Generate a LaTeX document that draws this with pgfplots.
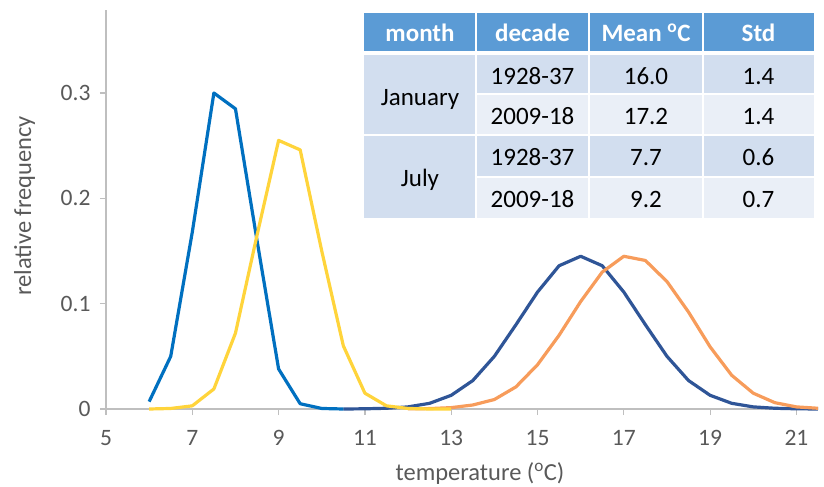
\documentclass[border=0pt]{standalone}
\usepackage{pgfplots}
\pgfplotsset{compat=1.18}
\usepackage{fontspec}
\setmainfont{Carlito}
\definecolor{lblue}{HTML}{0070C0}
\definecolor{yel}{HTML}{FFD43B}
\definecolor{dblue}{HTML}{2F5597}
\definecolor{orng}{HTML}{F79C5B}
\definecolor{hdr}{HTML}{5B9BD5}
\definecolor{rowA}{HTML}{D2DEEF}
\definecolor{rowB}{HTML}{EAEFF7}
\definecolor{axgray}{HTML}{BFBFBF}
\definecolor{txtgray}{HTML}{595959}
\newcommand\tfont{\fontsize{25bp}{30bp}\selectfont}
\newcommand\lfont{\fontsize{24.5bp}{29bp}\selectfont}
\begin{document}
\begin{tikzpicture}
\begin{axis}[
 scale only axis, width=712bp, height=399bp,
 xmin=5, xmax=21.5, ymin=0, ymax=0.3788,
 axis lines=left, axis line style={-, axgray, line width=1.2bp},
 xtick={5,7,...,21}, ytick={0,0.1,0.2,0.3},
 yticklabels={0,0.1,0.2,0.3},
 tick align=outside, major tick length=6bp,
 tick style={axgray, line width=1.2bp},
 ticklabel style={font=\fontsize{23.5bp}{28bp}\selectfont, text=txtgray},
 xticklabel style={yshift=-12bp},
 yticklabel style={xshift=-6bp},
 /pgf/number format/assume math mode=true,
 clip=false,
 every axis plot/.append style={no marks, line width=3.2bp, line join=round},
]
\addplot[dblue] coordinates {
(10.5,0) (11,0.0002) (11.5,0.0007) (12,0.002) (12.5,0.0054) (13,0.013) (13.5,0.027) (14,0.05) (14.5,0.08) (15,0.111) (15.5,0.136) (16,0.145) (16.5,0.136) (17,0.111) (17.5,0.08) (18,0.05) (18.5,0.027) (19,0.013) (19.5,0.0054) (20,0.002) (20.5,0.0007) (21,0.0002) (21.5,0)};
\addplot[orng] coordinates {
(12,0.0001) (12.5,0.0004) (13,0.0013) (13.5,0.0038) (14,0.009) (14.5,0.021) (15,0.042) (15.5,0.070) (16,0.102) (16.5,0.130) (17,0.145) (17.5,0.141) (18,0.121) (18.5,0.092) (19,0.059) (19.5,0.032) (20,0.015) (20.5,0.006) (21,0.002) (21.5,0.0007)};
\addplot[lblue] coordinates {
(6,0.007) (6.5,0.05) (7,0.168) (7.5,0.300) (8,0.285) (8.5,0.160) (9,0.038) (9.5,0.005) (10,0.0005) (10.5,0)};
\addplot[yel] coordinates {
(6,0) (6.5,0.0005) (7,0.003) (7.5,0.019) (8,0.072) (8.5,0.165) (9,0.255) (9.5,0.246) (10,0.15) (10.5,0.06) (11,0.015) (11.5,0.003) (12,0.0005) (12.5,0) (13,0)};
\end{axis}
\begin{scope}[x=1bp,y=1bp]
\node[rotate=90, anchor=base, text=txtgray, font=\lfont] at (-75,203) {relative frequency};
\node[anchor=base, text=txtgray, font=\lfont] at (374,-71) {temperature (\textsuperscript{o}C)};
% table
\fill[hdr] (258,358) rectangle (708,396);
\fill[rowA] (258,191) rectangle (370,354);
\fill[rowA] (370,315) rectangle (708,354);
\fill[rowB] (370,274) rectangle (708,315);
\fill[rowA] (370,232) rectangle (708,274);
\fill[rowB] (370,191) rectangle (708,232);
\draw[white, line width=2bp] (370,191)--(370,396) (483,191)--(483,396) (597,191)--(597,396)
  (258,274)--(708,274) (370,315)--(708,315) (370,232)--(708,232);
\begin{scope}[every node/.style={anchor=base, font=\tfont}]
\node[text=white, font=\tfont\bfseries] at (314,367.5) {month};
\node[text=white, font=\tfont\bfseries] at (426.5,367.5) {decade};
\node[text=white, font=\tfont\bfseries] at (540,367.5) {Mean \textsuperscript{o}C};
\node[text=white, font=\tfont\bfseries] at (652.5,367.5) {Std};
\node at (314,304) {January};
\node at (314,222.5) {July};
\node at (426.5,325) {1928-37};
\node at (426.5,285) {2009-18};
\node at (426.5,243.5) {1928-37};
\node at (426.5,202) {2009-18};
\node at (540,325) {16.0};
\node at (540,285) {17.2};
\node at (540,243.5) {7.7};
\node at (540,202) {9.2};
\node at (652.5,325) {1.4};
\node at (652.5,285) {1.4};
\node at (652.5,243.5) {0.6};
\node at (652.5,202) {0.7};
\end{scope}
\end{scope}
\pgfresetboundingbox
\path[use as bounding box] (-106bp,-78bp) rectangle (718bp,409bp);
\end{tikzpicture}
\end{document}
